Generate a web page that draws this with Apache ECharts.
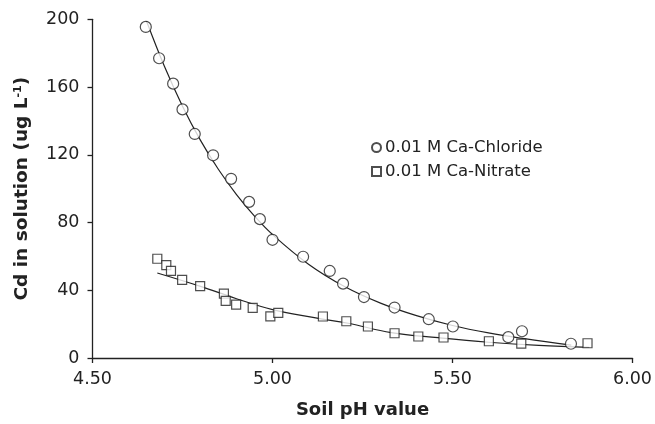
<!DOCTYPE html>
<html>
<head>
<meta charset="utf-8">
<script src="https://cdn.jsdelivr.net/npm/echarts@6/dist/echarts.min.js"></script>
<style>html,body{margin:0;padding:0;background:#fff;}#c{width:655px;height:424px;}</style>
</head>
<body>
<div id="c"></div>
<script>
// Observed points: 0.01 M Ca-Chloride
var chlorideX = [4.648,4.685,4.724,4.750,4.784,4.835,4.885,4.935,4.965,5.000,5.085,5.159,5.196,5.254,5.339,5.434,5.501,5.655,5.693,5.829];
var chlorideY = [195.5,177.0,162.0,146.8,132.3,119.7,105.8,92.2,82.0,69.8,59.8,51.4,43.9,36.0,29.8,22.9,18.6,12.3,15.8,8.4];
// Observed points: 0.01 M Ca-Nitrate
var nitrateX = [4.680,4.705,4.718,4.749,4.799,4.865,4.870,4.899,4.945,4.994,5.016,5.140,5.205,5.265,5.339,5.405,5.475,5.601,5.691,5.875];
var nitrateY = [58.6,54.9,51.4,46.1,42.5,38.0,33.7,31.5,29.6,24.6,26.6,24.5,21.7,18.6,14.6,12.7,12.1,9.9,8.5,8.7];
// Trend lines
var chlorideFitX = [4.65,4.70,4.75,4.80,4.85,4.90,4.95,5.00,5.10,5.20,5.30,5.40,5.50,5.60,5.70,5.83];
var chlorideFitY = [199.0,172.1,148.7,128.5,111.3,96.5,83.8,72.9,55.4,42.2,32.4,25.0,19.2,14.8,11.4,7.6];
var nitrateFitX = [4.68,4.80,4.90,5.00,5.12,5.21,5.33,5.46,5.60,5.74,5.88];
var nitrateFitY = [50.2,42.3,35.0,28.6,23.7,20.5,15.0,12.0,9.3,7.4,6.3];
var xTicks = [4.5,5.0,5.5,6.0];
var yTicks = [0,40,80,120,160,200];
var seriesNames = ['0.01 M Ca-Chloride','0.01 M Ca-Nitrate'];

function pairs(xs, ys){ return xs.map(function(x,i){ return [x, ys[i]]; }); }

var FONT = 'DejaVu Sans';
var chart = echarts.init(document.getElementById('c'), null, {renderer:'canvas'});
chart.setOption({
  animation:false,
  backgroundColor:'#fff',
  textStyle:{fontFamily:FONT},
  grid:{left:92.5, right:21, top:19.3, bottom:65.5},
  legend:{
    data:[{name:seriesNames[0], icon:'circle'},{name:seriesNames[1], icon:'rect'}],
    orient:'vertical', left:366, top:133,
    itemWidth:9, itemHeight:9, itemGap:5,
    textStyle:{fontFamily:FONT, fontSize:16.5, color:'#222', lineHeight:19, padding:[0,0,0,-1]}
  },
  xAxis:{
    type:'value', min:xTicks[0], max:xTicks[xTicks.length-1], interval:0.5,
    name:'Soil pH value', nameLocation:'middle', nameGap:43,
    nameTextStyle:{fontFamily:FONT, fontSize:18, fontWeight:'bold', color:'#222'},
    axisLine:{lineStyle:{color:'#222', width:1.3}},
    axisTick:{inside:false, length:5, lineStyle:{color:'#222', width:1.3}},
    axisLabel:{margin:12, fontSize:17.5, color:'#222', fontFamily:FONT, formatter:function(v){return v.toFixed(2);}},
    splitLine:{show:false}
  },
  yAxis:{
    type:'value', min:yTicks[0], max:yTicks[yTicks.length-1], interval:40,
    name:'{a|Cd in solution (ug L}{s|-1}{a|)}', nameLocation:'middle', nameGap:61,
    nameTextStyle:{fontFamily:FONT, fontSize:18.5, fontWeight:'bold', color:'#222',
      rich:{a:{fontFamily:FONT, fontSize:18.5, fontWeight:'bold', color:'#222'},
            s:{fontFamily:FONT, fontSize:11, fontWeight:'bold', color:'#222', verticalAlign:'top', padding:[0,0,8,0]}}},
    axisLine:{show:true, lineStyle:{color:'#222', width:1.3}},
    axisTick:{show:true, inside:false, length:5, lineStyle:{color:'#222', width:1.3}},
    axisLabel:{margin:13, fontSize:17.5, color:'#222', fontFamily:FONT},
    splitLine:{show:false}
  },
  series:[
    {type:'line', name:'fitC', data:pairs(chlorideFitX, chlorideFitY), smooth:0.4, showSymbol:false, symbol:'none',
     lineStyle:{color:'#222', width:1.2}, z:2, silent:true},
    {type:'line', name:'fitN', data:pairs(nitrateFitX, nitrateFitY), smooth:0.4, showSymbol:false, symbol:'none',
     lineStyle:{color:'#222', width:1.2}, z:2, silent:true},
    {type:'scatter', name:seriesNames[0], data:pairs(chlorideX, chlorideY), symbol:'circle', symbolSize:11,
     itemStyle:{color:'#fff', borderColor:'#222', borderWidth:1.2}, z:3},
    {type:'scatter', name:seriesNames[1], data:pairs(nitrateX, nitrateY), symbol:'rect', symbolSize:9,
     itemStyle:{color:'#fff', borderColor:'#222', borderWidth:1.2}, z:3}
  ]
});
</script>
</body>
</html>
